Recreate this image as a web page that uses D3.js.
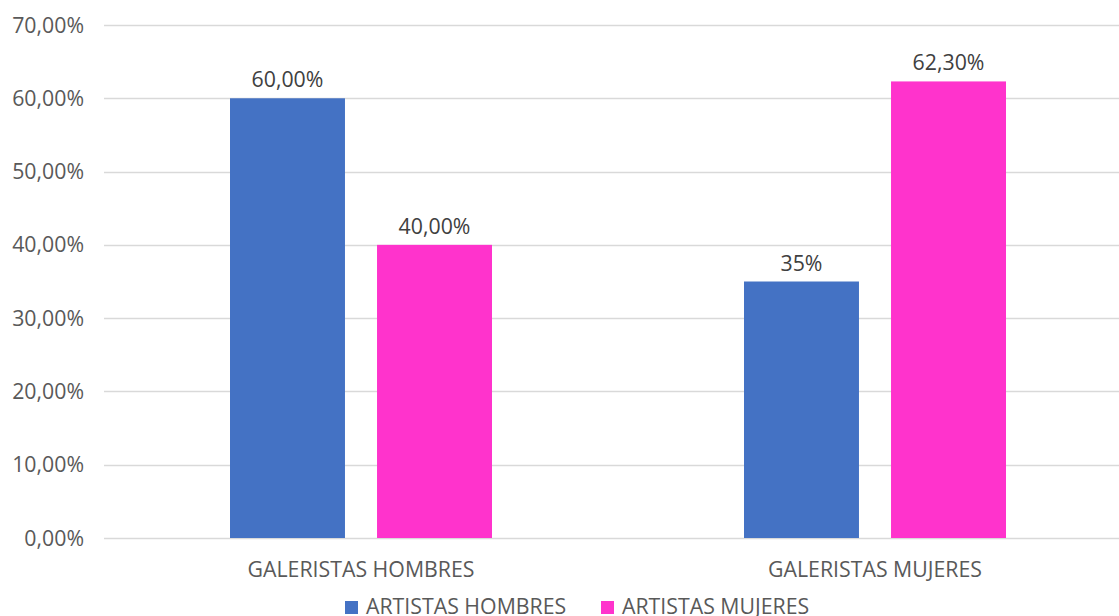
<!DOCTYPE html>
<html><head><meta charset="utf-8">
<script src="https://cdn.jsdelivr.net/npm/d3@7"></script>
<style>body{margin:0;background:#fff;} svg{display:block;}</style>
</head><body>
<svg id="chart" width="1119" height="616"></svg>
<script>
const categories = ["GALERISTAS HOMBRES", "GALERISTAS MUJERES"];
const seriesNames = ["ARTISTAS HOMBRES", "ARTISTAS MUJERES"];
const artistasHombres = [60.0, 35.0];
const artistasMujeres = [40.0, 62.3];
const valueLabels = [["60,00%", "35%"], ["40,00%", "62,30%"]];
const yTicks = [0, 10, 20, 30, 40, 50, 60, 70];
const colors = ["#4472C4", "#FF33CC"];
const seriesValues = [artistasHombres, artistasMujeres];

const font = "'Open Sans', 'Liberation Sans', sans-serif";
const fs = 21.3;
const svg = d3.select("#chart");
const y = d3.scaleLinear().domain([0, 70]).range([538, 25]);
const x0 = d3.scaleBand().domain(categories).range([104, 1132]);
const x1 = d3.scaleBand().domain(seriesNames).range([126, 388]).paddingInner(0.218);

// gridlines
svg.append("g").selectAll("line").data(yTicks).join("line")
  .attr("x1", 104).attr("x2", 1119)
  .attr("y1", d => Math.round(y(d)) + 0.5).attr("y2", d => Math.round(y(d)) + 0.5)
  .attr("stroke", "#D9D9D9").attr("stroke-width", 1.3);

// y tick labels
svg.append("g").selectAll("text").data(yTicks).join("text")
  .attr("x", 84).attr("y", d => y(d) + 7.5)
  .attr("text-anchor", "end")
  .attr("font-family", font).attr("font-size", fs).attr("fill", "#595959")
  .text(d => d3.format(".2f")(d).replace(".", ",") + "%");

// bars
categories.forEach((c, ci) => {
  seriesNames.forEach((s, si) => {
    const v = seriesValues[si][ci];
    const bx = x0(c) + x1(s);
    svg.append("rect")
      .attr("x", bx).attr("y", y(v))
      .attr("width", x1.bandwidth()).attr("height", y(0) - y(v))
      .attr("fill", colors[si]);
    svg.append("text")
      .attr("x", bx + x1.bandwidth() / 2).attr("y", y(v) - 11)
      .attr("text-anchor", "middle")
      .attr("font-family", font).attr("font-size", fs).attr("fill", "#404040")
      .text(valueLabels[si][ci]);
  });
});

// category labels
svg.append("g").selectAll("text").data(categories).join("text")
  .attr("x", d => x0(d) + x0.bandwidth() / 2).attr("y", 577)
  .attr("text-anchor", "middle")
  .attr("font-family", font).attr("font-size", fs).attr("fill", "#595959")
  .text(d => d);

// legend
const legendX = [345, 601];
seriesNames.forEach((s, i) => {
  svg.append("rect").attr("x", legendX[i]).attr("y", 601).attr("width", 13).attr("height", 13).attr("fill", colors[i]);
  svg.append("text").attr("x", legendX[i] + 21).attr("y", 614)
    .attr("font-family", font).attr("font-size", fs).attr("fill", "#595959").text(s);
});
</script>
</body></html>
